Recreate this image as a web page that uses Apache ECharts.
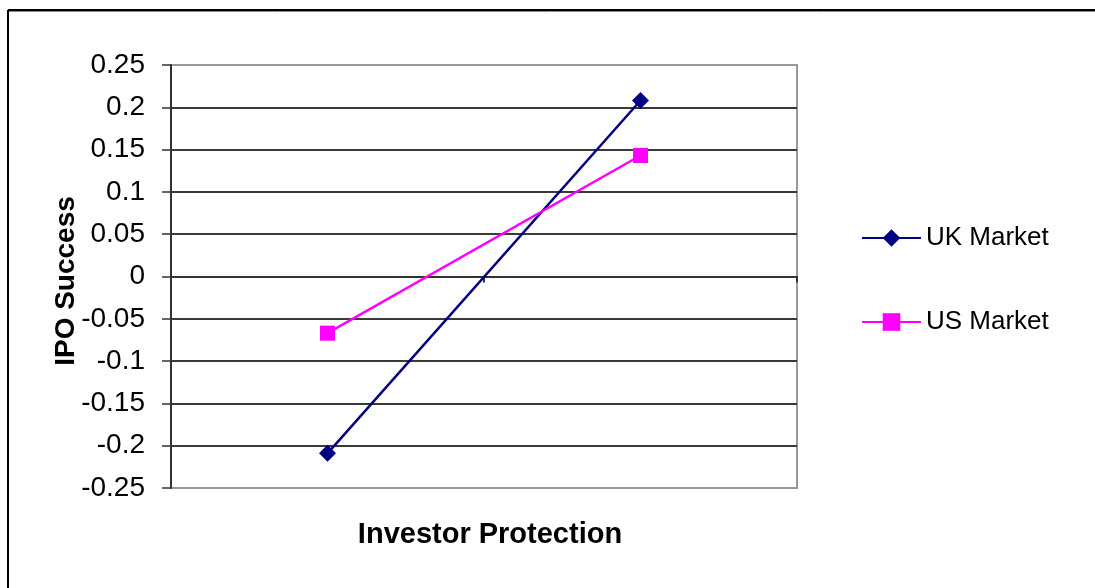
<!DOCTYPE html>
<html>
<head>
<meta charset="utf-8">
<script src="https://cdn.jsdelivr.net/npm/echarts@6/dist/echarts.min.js"></script>
<style>
html,body{margin:0;padding:0;background:#fff;}
#chart{width:1095px;height:588px;}
</style>
</head>
<body>
<div id="chart"></div>
<script>
var categories = ['Low', 'High'];
var ukMarket = [-0.209, 0.208];
var usMarket = [-0.067, 0.143];
var yTicks = [-0.25, -0.2, -0.15, -0.1, -0.05, 0, 0.05, 0.1, 0.15, 0.2, 0.25];
var seriesNames = ['UK Market', 'US Market'];
var xTitle = 'Investor Protection';
var yTitle = 'IPO Success';

var FONT = '"Liberation Sans", Arial, sans-serif';
var splitColors = yTicks.map(function (v, i) {
  return (i === 0 || i === yTicks.length - 1) ? '#999999' : '#3a3a3a';
});

var chart = echarts.init(document.getElementById('chart'));
chart.setOption({
  animation: false,
  backgroundColor: '#ffffff',
  grid: {
    left: 171, right: 298, top: 65, bottom: 100,
    show: true, borderColor: '#999999', borderWidth: 2, backgroundColor: 'transparent'
  },
  legend: {
    orient: 'vertical',
    left: 861, top: 221, padding: 0,
    itemWidth: 59, itemHeight: 22, itemGap: 50,
    textStyle: { fontFamily: FONT, fontSize: 26, color: '#000', lineHeight: 32, padding: [2, 0, 0, 0] },
    data: seriesNames
  },
  xAxis: {
    type: 'category',
    data: categories,
    boundaryGap: true,
    axisLine: { onZero: true, lineStyle: { color: '#333333', width: 2 } },
    axisTick: { show: true, length: 6, inside: false, lineStyle: { color: '#333333', width: 2 } },
    axisLabel: { show: false },
    splitLine: { show: false }
  },
  yAxis: {
    type: 'value',
    min: -0.25, max: 0.25, interval: 0.05,
    axisLine: { show: true, onZero: false, lineStyle: { color: '#333333', width: 2 } },
    axisTick: { show: true, length: 9, lineStyle: { color: '#333333', width: 1.5 } },
    axisLabel: {
      margin: 26, fontFamily: FONT, fontSize: 28, color: '#000',
      formatter: function (v) { return String(parseFloat(v.toFixed(2))); }
    },
    splitLine: { show: true, lineStyle: { color: splitColors, width: 2 } }
  },
  series: [
    {
      name: seriesNames[0], type: 'line', data: ukMarket,
      symbol: 'diamond', symbolSize: 17,
      lineStyle: { color: '#000080', width: 2.5 },
      itemStyle: { color: '#000080' }
    },
    {
      name: seriesNames[1], type: 'line', data: usMarket,
      symbol: 'rect', symbolSize: 15,
      lineStyle: { color: '#FF00FF', width: 2.5 },
      itemStyle: { color: '#FF00FF' }
    }
  ],
  graphic: [
    { type: 'line', shape: { x1: 8, y1: 10, x2: 1095, y2: 10 }, style: { stroke: '#000', lineWidth: 2 } },
    { type: 'line', shape: { x1: 8, y1: 11.5, x2: 1095, y2: 11.5 }, style: { stroke: '#888', lineWidth: 1 } },
    { type: 'line', shape: { x1: 8, y1: 10, x2: 8, y2: 588 }, style: { stroke: '#000', lineWidth: 2 } },
    {
      type: 'text', x: 490, y: 535,
      style: { text: xTitle, fontFamily: FONT, fontSize: 29, fontWeight: 'bold', fill: '#000', textAlign: 'center', textVerticalAlign: 'middle' }
    },
    {
      type: 'text', x: 66, y: 281, rotation: Math.PI / 2,
      style: { text: yTitle, fontFamily: FONT, fontSize: 28, fontWeight: 'bold', fill: '#000', textAlign: 'center', textVerticalAlign: 'middle' }
    }
  ]
});
</script>
</body>
</html>
